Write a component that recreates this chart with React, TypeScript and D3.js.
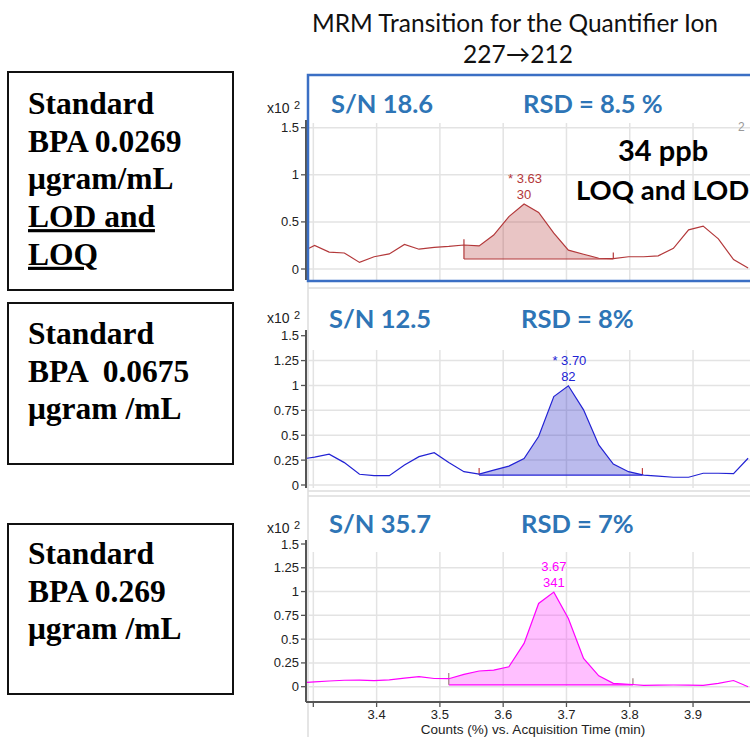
import * as d3 from 'd3';
import React, { useEffect, useRef } from 'react';

// acquisition time (min), same scan grid for the three runs
const times = [3.290, 3.302, 3.325, 3.349, 3.373, 3.396, 3.420, 3.444, 3.467, 3.491, 3.514,
  3.538, 3.562, 3.585, 3.609, 3.633, 3.656, 3.680, 3.703, 3.727, 3.751, 3.774, 3.798,
  3.822, 3.845, 3.869, 3.893, 3.916, 3.940, 3.964, 3.987];

// counts (x10^2)
const lodCounts = [0.21, 0.25, 0.18, 0.17, 0.07, 0.13, 0.16, 0.26, 0.21, 0.23, 0.24,
  0.255, 0.245, 0.36, 0.556, 0.69, 0.60, 0.38, 0.20, 0.157, 0.114, 0.11, 0.13,
  0.13, 0.14, 0.22, 0.415, 0.455, 0.32, 0.10, 0.01];
const midCounts = [0.269, 0.28, 0.309, 0.225, 0.108, 0.094, 0.094, 0.20, 0.285, 0.325, 0.225,
  0.134, 0.11, 0.15, 0.19, 0.265, 0.487, 0.889, 0.997, 0.755, 0.403, 0.211, 0.134,
  0.10, 0.09, 0.078, 0.078, 0.118, 0.118, 0.114, 0.269];
const highCounts = [0.046, 0.05, 0.06, 0.068, 0.07, 0.063, 0.072, 0.09, 0.105, 0.086, 0.084,
  0.13, 0.165, 0.175, 0.21, 0.455, 0.875, 0.994, 0.717, 0.298, 0.114, 0.035, 0.026,
  0.014, 0.016, 0.018, 0.017, 0.014, 0.035, 0.065, 0.0];

const xTicks = [3.4, 3.5, 3.6, 3.7, 3.8, 3.9];
const xGrid = [3.3, 3.4, 3.5, 3.6, 3.7, 3.8, 3.9];
const coarseTicks = [0, 0.5, 1, 1.5];
const fineTicks = [0, 0.25, 0.5, 0.75, 1, 1.25, 1.5];

const peakTimeLabels = ['* 3.63', '* 3.70', '3.67'];
const peakAreaLabels = ['30', '82', '341'];
const snLabels = ['S/N 18.6', 'S/N 12.5', 'S/N 35.7'];
const rsdLabels = ['RSD = 8.5 %', 'RSD = 8%', 'RSD = 7%'];
const integStart = [3.538, 3.562, 3.514];
const integEnd = [3.774, 3.820, 3.805];
const integBase = [0.106, 0.10, 0.02];

const sampleLines = [
  ['Standard', 'BPA 0.0269', 'μgram/mL', 'LOD and', 'LOQ'],
  ['Standard', 'BPA  0.0675', 'μgram /mL'],
  ['Standard', 'BPA 0.269', 'μgram /mL'],
];

const W = 750;
const H = 737;

const panels = [
  { counts: lodCounts, stroke: '#b3383a', fill: 'rgba(176,48,48,0.28)', tick: '#b3383a',
    y0: 269, y15: 127.7, axisTop: 120, axisBottom: 280, gridTop: 123, ticks: coarseTicks, gridMax: 1.5,
    x10: 113, text: 113, box: [8, 72, 225, 218], lineTop: 114 },
  { counts: midCounts, stroke: '#2222d4', fill: 'rgba(50,50,200,0.33)', tick: '#c04040',
    y0: 485, y15: 335.7, axisTop: 330, axisBottom: 488, gridTop: 350, ticks: fineTicks, gridMax: 1.25,
    x10: 323, text: 328, box: [8, 303, 225, 161], lineTop: 344 },
  { counts: highCounts, stroke: '#ff00ff', fill: 'rgba(255,60,255,0.33)', tick: '#a08080',
    y0: 686.7, y15: 544, axisTop: 540, axisBottom: 702, gridTop: 552, ticks: fineTicks, gridMax: 1.25,
    x10: 533, text: 533, box: [8, 524, 225, 170], lineTop: 564 },
];

const App = () => {
  const ref = useRef<SVGSVGElement | null>(null);

  useEffect(() => {
    const svg = d3.select(ref.current);
    svg.selectAll('*').remove();

    const x = d3.scaleLinear().domain([3.29, 3.99]).range([307, 750]);
    const tick = (v: number) => d3.format('')(v);
    const sans = '"Liberation Sans", Arial, sans-serif';
    const calibri = 'Lato, "Open Sans", sans-serif';

    svg.append('rect').attr('width', W).attr('height', H).attr('fill', '#fff');

    // title
    svg.append('text').attr('x', 515).attr('y', 32).attr('text-anchor', 'middle')
      .style('font-family', calibri).style('font-size', '24.5px')
      .attr('fill', '#111').text('MRM Transition for the Quantifier Ion');
    svg.append('text').attr('x', 518).attr('y', 63).attr('text-anchor', 'middle')
      .style('font-family', calibri).style('font-size', '24.5px')
      .attr('fill', '#111').text('227→212');

    // light pane borders
    const pane = svg.append('g').attr('stroke', '#dcdcdc').attr('stroke-width', 1.5).attr('fill', 'none');
    pane.append('line').attr('x1', 308).attr('x2', 308).attr('y1', 282).attr('y2', 737);
    pane.append('line').attr('x1', 308).attr('x2', 750).attr('y1', 288).attr('y2', 288);
    pane.append('line').attr('x1', 308).attr('x2', 750).attr('y1', 491).attr('y2', 491);
    pane.append('line').attr('x1', 308).attr('x2', 750).attr('y1', 496).attr('y2', 496);

    panels.forEach((p, i) => {
      const y = d3.scaleLinear().domain([0, 1.5]).range([p.y0, p.y15]);
      const g = svg.append('g');

      // sample box
      const [bx, by, bw, bh] = p.box;
      g.append('rect').attr('x', bx).attr('y', by).attr('width', bw).attr('height', bh)
        .attr('fill', 'none').attr('stroke', '#111').attr('stroke-width', 2);
      sampleLines[i].forEach((s, k) => {
        const t = g.append('text').attr('x', 28).attr('y', p.lineTop + k * 37.7)
          .style('font-family', '"Liberation Serif", "Times New Roman", serif')
          .style('font-weight', 'bold').style('font-size', '31.5px').attr('fill', '#000')
          .style('white-space', 'pre').text(s);
        if (i === 0 && k >= 3) t.attr('text-decoration', 'underline');
      });

      // grid
      const grid = g.append('g').attr('stroke', '#e3e3e3').attr('stroke-width', 1.5);
      xGrid.forEach(t => {
        grid.append('line').attr('x1', x(t)).attr('x2', x(t)).attr('y1', p.gridTop).attr('y2', p.axisBottom);
      });
      p.ticks.filter(v => v <= p.gridMax).forEach(v => {
        grid.append('line').attr('x1', 307).attr('x2', 750).attr('y1', y(v)).attr('y2', y(v));
      });

      // integrated peak area
      const valueAt = (t: number) => {
        const j = d3.bisectRight(times, t) - 1;
        const f = (t - times[j]) / (times[j + 1] - times[j]);
        return p.counts[j] + f * (p.counts[j + 1] - p.counts[j]);
      };
      const s0 = integStart[i];
      const s1 = integEnd[i];
      const seg: [number, number][] = [[s0, valueAt(s0)]];
      times.forEach((t, j) => { if (t > s0 && t < s1) seg.push([t, p.counts[j]]); });
      seg.push([s1, valueAt(s1)]);
      const area = d3.area<[number, number]>()
        .x(d => x(d[0])).y0(y(integBase[i])).y1(d => y(d[1]));
      g.append('path').attr('d', area(seg)).attr('fill', p.fill).attr('stroke', 'none');
      g.append('line').attr('x1', x(s0)).attr('x2', x(s1))
        .attr('y1', y(integBase[i])).attr('y2', y(integBase[i]))
        .attr('stroke', p.stroke).attr('stroke-width', 1.2);
      g.append('line').attr('x1', x(s0)).attr('x2', x(s0))
        .attr('y1', y(integBase[i])).attr('y2', y(valueAt(s0) + 0.06))
        .attr('stroke', i === 0 ? p.stroke : p.tick).attr('stroke-width', 1.2);
      g.append('line').attr('x1', x(s1)).attr('x2', x(s1))
        .attr('y1', y(integBase[i])).attr('y2', y(integBase[i] + 0.07))
        .attr('stroke', p.tick).attr('stroke-width', 1.2);

      // trace
      const line = d3.line<number>().x((_, j) => x(times[j])).y(d => y(d));
      g.append('path').attr('d', line(p.counts)).attr('fill', 'none')
        .attr('stroke', p.stroke).attr('stroke-width', 1.2);

      // peak label
      const pk = d3.maxIndex(p.counts);
      const lab = g.append('g').attr('fill', p.stroke).attr('text-anchor', 'middle')
        .style('font-family', sans).style('font-size', '13px');
      lab.append('text').attr('x', x(times[pk]) + (i < 2 ? 1 : 0)).attr('y', y(p.counts[pk]) - 21).text(peakTimeLabels[i]);
      lab.append('text').attr('x', x(times[pk])).attr('y', y(p.counts[pk]) - 5).text(peakAreaLabels[i]);

      // y axis
      const ax = g.append('g');
      ax.append('line').attr('x1', 306).attr('x2', 306).attr('y1', p.axisTop).attr('y2', p.axisBottom)
        .attr('stroke', '#555').attr('stroke-width', 2);
      p.ticks.forEach(v => {
        ax.append('line').attr('x1', 301).attr('x2', 306).attr('y1', y(v)).attr('y2', y(v))
          .attr('stroke', '#555').attr('stroke-width', 1.3);
        ax.append('text').attr('x', 299).attr('y', y(v) + 4.5).attr('text-anchor', 'end')
          .style('font-family', sans).style('font-size', '13px')
          .attr('fill', '#222').text(tick(v));
      });
      ax.append('text').attr('x', 267).attr('y', p.x10)
        .style('font-family', sans).style('font-size', '14px')
        .attr('fill', '#222').text('x10');
      ax.append('text').attr('x', 294).attr('y', p.x10 - 4)
        .style('font-family', sans).style('font-size', '11px')
        .attr('fill', '#222').text('2');

      // S/N and RSD
      const ft = g.append('g').attr('fill', '#2e75b6')
        .style('font-family', calibri).style('font-weight', 'bold')
        .style('font-size', '25.5px');
      ft.append('text').attr('x', i === 0 ? 331 : 329).attr('y', p.text).text(snLabels[i]);
      ft.append('text').attr('x', i === 0 ? 523 : 521).attr('y', p.text).text(rsdLabels[i]);
    });

    // top pane highlight
    svg.append('rect').attr('x', 308).attr('y', 75).attr('width', 444).attr('height', 206)
      .attr('fill', 'none').attr('stroke', '#3b6fc4').attr('stroke-width', 2.5);
    svg.append('text').attr('x', 738).attr('y', 131)
      .style('font-family', sans).style('font-size', '12px')
      .attr('fill', '#999').text('2');
    const lod = svg.append('g').attr('fill', '#000')
      .style('font-family', calibri).style('font-weight', 'bold');
    lod.append('text').attr('x', 618).attr('y', 161).style('font-size', '29px').text('34 ppb');
    lod.append('text').attr('x', 576).attr('y', 200).style('font-size', '27.5px').text('LOQ and LOD');

    // x axis (bottom pane)
    const xa = svg.append('g');
    xa.append('line').attr('x1', 306).attr('x2', 750).attr('y1', 702).attr('y2', 702)
      .attr('stroke', '#555').attr('stroke-width', 2);
    xGrid.forEach(t => {
      xa.append('line').attr('x1', x(t)).attr('x2', x(t)).attr('y1', 702).attr('y2', 707)
        .attr('stroke', '#555').attr('stroke-width', 1.3);
    });
    xTicks.forEach(t => {
      xa.append('text').attr('x', x(t)).attr('y', 719).attr('text-anchor', 'middle')
        .style('font-family', sans).style('font-size', '13px')
        .attr('fill', '#222').text(t.toFixed(1));
    });
    xa.append('text').attr('x', 533).attr('y', 734).attr('text-anchor', 'middle')
      .style('font-family', sans).style('font-size', '13.5px')
      .attr('fill', '#222').text('Counts (%) vs. Acquisition Time (min)');
  }, []);

  return (
    <svg ref={ref} width={W} height={H}
      style={{ position: 'absolute', left: 0, top: 0, display: 'block' }}></svg>
  );
};

export default App;
